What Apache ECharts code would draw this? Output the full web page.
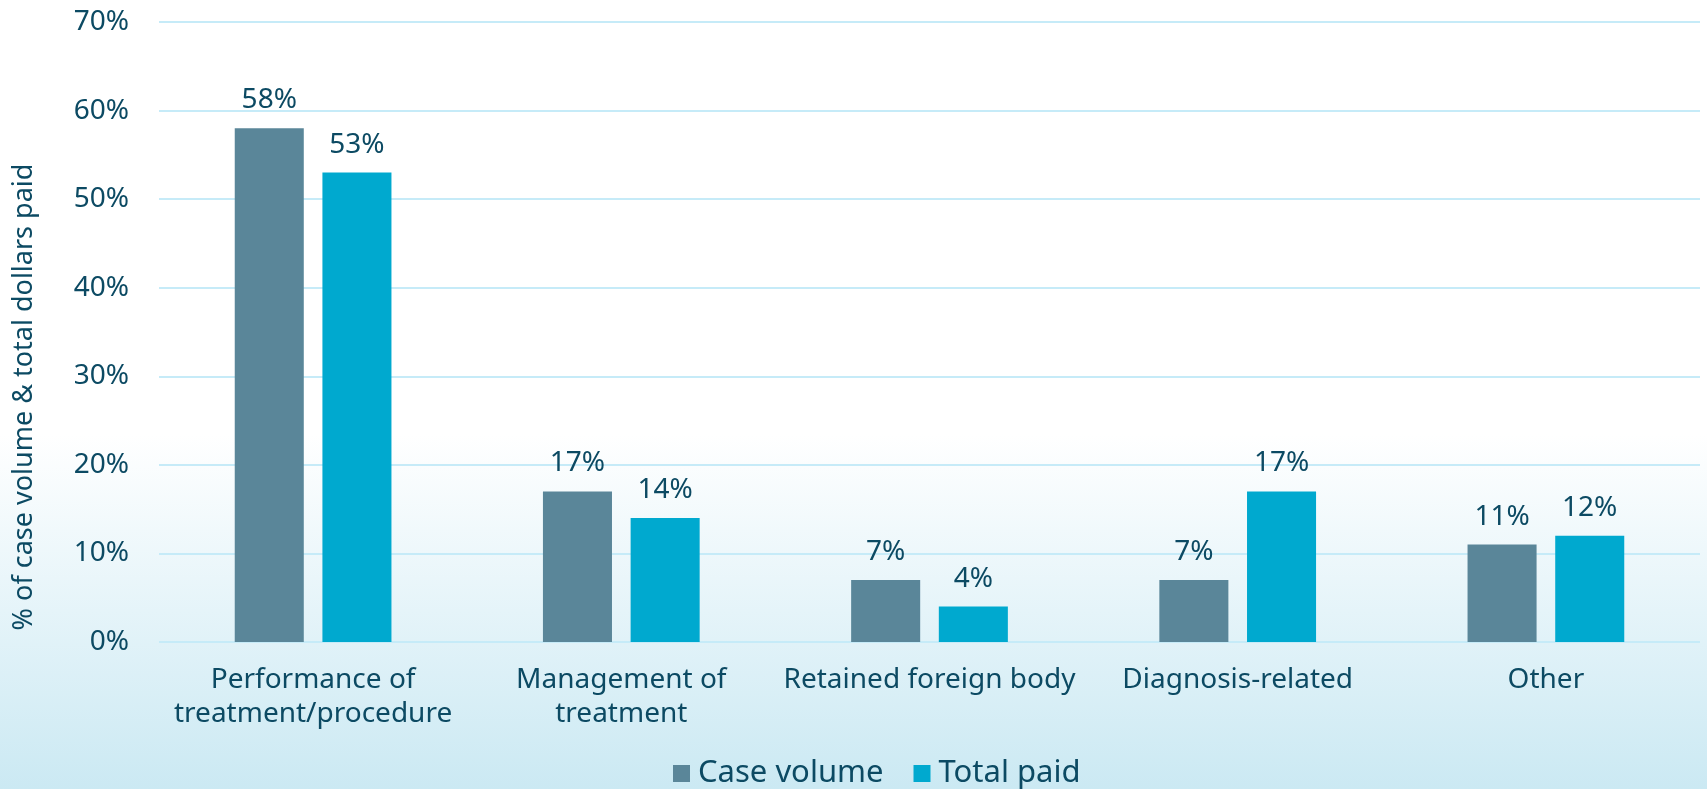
<!DOCTYPE html>
<html>
<head>
<meta charset="utf-8">
<script src="https://cdn.jsdelivr.net/npm/echarts@6/dist/echarts.min.js"></script>
<style>
  html, body { margin: 0; padding: 0; }
  #chart { width: 1707px; height: 789px; }
</style>
</head>
<body>
<div id="chart"></div>
<script>
// data
var categories = ['Performance of\ntreatment/procedure', 'Management of\ntreatment', 'Retained foreign body', 'Diagnosis-related', 'Other'];
var caseVolume = [58, 17, 7, 7, 11];
var totalPaid = [53, 14, 4, 17, 12];
var seriesNames = ['Case volume', 'Total paid'];
var yAxisTitle = '% of case volume & total dollars paid';

var textColor = '#0c4a63';
var font = 'Noto Sans';

var chart = echarts.init(document.getElementById('chart'));
var option = {
  animation: false,
  backgroundColor: {
    type: 'linear', x: 0, y: 0, x2: 0, y2: 1,
    colorStops: [
      { offset: 0, color: '#ffffff' },
      { offset: 0.55, color: '#ffffff' },
      { offset: 1, color: '#cbe9f3' }
    ]
  },
  textStyle: { fontFamily: font, color: textColor },
  grid: { left: 159, right: 7, top: 22, bottom: 147 },
  legend: {
    data: seriesNames,
    top: 753,
    left: 668,
    itemWidth: 17,
    itemHeight: 17,
    itemGap: 30,
    icon: 'rect',
    textStyle: { fontSize: 31, color: textColor, fontFamily: font, padding: [0, 0, 0, 3] }
  },
  graphic: [{
    type: 'text',
    x: 24,
    y: 397,
    rotation: Math.PI / 2,
    style: {
      text: yAxisTitle,
      fontSize: 27,
      fontFamily: font,
      fill: textColor,
      textAlign: 'center',
      textVerticalAlign: 'middle'
    }
  }],
  xAxis: {
    type: 'category',
    data: categories,
    axisLine: { show: false },
    axisTick: { show: false },
    axisLabel: {
      fontSize: 28,
      color: textColor,
      lineHeight: 34,
      margin: 21,
      interval: 0
    }
  },
  yAxis: {
    type: 'value',
    min: 0,
    max: 70,
    interval: 10,
    axisLabel: {
      formatter: '{value}%',
      fontSize: 28,
      color: textColor,
      margin: 30
    },
    splitLine: { lineStyle: { color: '#c6ebf8', width: 2 } }
  },
  series: [{
    name: seriesNames[0],
    type: 'bar',
    data: caseVolume,
    barWidth: '22.4%',
    barGap: '27%',
    itemStyle: { color: '#5a8699' },
    label: { show: true, position: 'top', distance: 14, formatter: '{c}%', fontSize: 28, color: textColor }
  }, {
    name: seriesNames[1],
    type: 'bar',
    data: totalPaid,
    barWidth: '22.4%',
    itemStyle: { color: '#00a9cf' },
    label: { show: true, position: 'top', distance: 14, formatter: '{c}%', fontSize: 28, color: textColor }
  }]
};
chart.setOption(option);
</script>
</body>
</html>
